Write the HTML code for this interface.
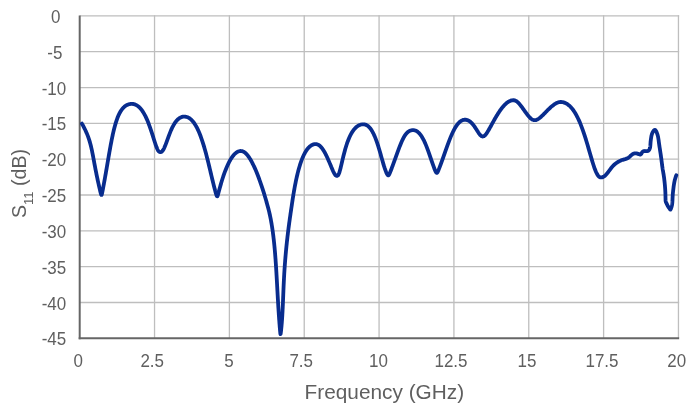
<!DOCTYPE html>
<html lang="en">
<head>
<meta charset="utf-8">
<title>S11 vs Frequency</title>
<style>
html,body{margin:0;padding:0;background:#fff;}
body{width:691px;height:411px;overflow:hidden;font-family:"Liberation Sans",sans-serif;}
svg{display:block;}
svg text{font-family:"Liberation Sans",sans-serif;fill:#5f5f5f;}
.grid line{stroke:#bebebe;stroke-width:1.3;}
.axis line{stroke:#666;stroke-width:2;}
.tick text{font-size:18px;text-anchor:middle;}
.title{font-size:19.7px;}
.curve{fill:none;stroke:#082c8e;stroke-width:3.8;stroke-linejoin:round;stroke-linecap:round;}
</style>
</head>
<body>
<svg width="691" height="411" viewBox="0 0 691 411">
<rect width="691" height="411" fill="#fff"/>
<g class="grid">
<line x1="154.54" y1="15.20" x2="154.54" y2="338.30"/>
<line x1="229.39" y1="15.20" x2="229.39" y2="338.30"/>
<line x1="304.23" y1="15.20" x2="304.23" y2="338.30"/>
<line x1="379.07" y1="15.20" x2="379.07" y2="338.30"/>
<line x1="453.92" y1="15.20" x2="453.92" y2="338.30"/>
<line x1="528.76" y1="15.20" x2="528.76" y2="338.30"/>
<line x1="603.61" y1="15.20" x2="603.61" y2="338.30"/>
<line x1="678.45" y1="15.20" x2="678.45" y2="338.30"/>
<line x1="79.70" y1="15.90" x2="679.15" y2="15.90"/>
<line x1="79.70" y1="51.72" x2="679.15" y2="51.72"/>
<line x1="79.70" y1="87.54" x2="679.15" y2="87.54"/>
<line x1="79.70" y1="123.37" x2="679.15" y2="123.37"/>
<line x1="79.70" y1="159.19" x2="679.15" y2="159.19"/>
<line x1="79.70" y1="195.01" x2="679.15" y2="195.01"/>
<line x1="79.70" y1="230.83" x2="679.15" y2="230.83"/>
<line x1="79.70" y1="266.66" x2="679.15" y2="266.66"/>
<line x1="79.70" y1="302.48" x2="679.15" y2="302.48"/>
</g>

<g class="axis">
<line x1="79.7" y1="15.6" x2="79.7" y2="339.3"/>
<line x1="78.7" y1="338.3" x2="679.1500000000001" y2="338.3"/>
</g>
<path class="curve" d="M81.90 123.60 L82.29 124.30 L82.68 125.00 L83.07 125.70 L83.45 126.40 L83.82 127.11 L84.19 127.82 L84.55 128.53 L84.91 129.25 L85.26 129.97 L85.60 130.69 L85.94 131.41 L86.26 132.14 L86.58 132.88 L86.90 133.61 L87.20 134.35 L87.50 135.10 L87.79 135.84 L88.07 136.59 L88.34 137.34 L88.60 138.10 L88.86 138.86 L89.11 139.62 L89.35 140.38 L89.58 141.14 L89.81 141.91 L90.03 142.68 L90.24 143.45 L90.45 144.22 L90.65 145.00 L90.84 145.77 L91.03 146.55 L91.22 147.33 L91.40 148.11 L91.57 148.89 L91.74 149.67 L91.91 150.45 L92.07 151.24 L92.23 152.02 L92.39 152.80 L92.55 153.59 L92.70 154.37 L92.85 155.16 L93.00 155.95 L93.15 156.73 L93.30 157.52 L93.45 158.30 L93.59 159.09 L93.74 159.88 L93.88 160.66 L94.03 161.45 L94.17 162.24 L94.32 163.02 L94.47 163.81 L94.61 164.60 L94.76 165.38 L94.91 166.17 L95.06 166.96 L95.21 167.74 L95.36 168.53 L95.51 169.31 L95.66 170.10 L95.81 170.88 L95.97 171.67 L96.12 172.45 L96.28 173.24 L96.44 174.02 L96.60 174.81 L96.76 175.59 L96.92 176.37 L97.08 177.16 L97.25 177.94 L97.41 178.72 L97.58 179.50 L97.75 180.29 L97.92 181.07 L98.09 181.85 L98.26 182.63 L98.44 183.41 L98.61 184.19 L98.79 184.97 L98.97 185.75 L99.15 186.53 L99.33 187.31 L99.51 188.09 L99.69 188.87 L99.88 189.65 L100.07 190.42 L100.25 191.20 L100.44 191.98 L100.63 192.74 L100.82 193.48 L101.01 194.15 L101.20 194.67 L101.38 194.96 L101.56 194.96 L101.73 194.66 L101.89 194.12 L102.05 193.44 L102.20 192.69 L102.35 191.92 L102.51 191.13 L102.66 190.35 L102.81 189.56 L102.96 188.78 L103.11 187.99 L103.26 187.21 L103.40 186.42 L103.55 185.63 L103.70 184.85 L103.84 184.06 L103.99 183.27 L104.13 182.49 L104.28 181.70 L104.42 180.91 L104.56 180.13 L104.70 179.34 L104.84 178.55 L104.98 177.76 L105.12 176.98 L105.26 176.19 L105.40 175.40 L105.54 174.61 L105.68 173.82 L105.82 173.04 L105.95 172.25 L106.09 171.46 L106.23 170.67 L106.36 169.88 L106.50 169.09 L106.64 168.31 L106.77 167.52 L106.91 166.73 L107.04 165.94 L107.18 165.15 L107.31 164.36 L107.45 163.58 L107.58 162.79 L107.72 162.00 L107.85 161.21 L107.99 160.42 L108.12 159.63 L108.26 158.84 L108.39 158.06 L108.53 157.27 L108.66 156.48 L108.80 155.69 L108.94 154.90 L109.07 154.11 L109.21 153.33 L109.35 152.54 L109.49 151.75 L109.63 150.96 L109.77 150.17 L109.91 149.39 L110.05 148.60 L110.19 147.81 L110.33 147.03 L110.48 146.24 L110.62 145.45 L110.77 144.66 L110.92 143.88 L111.06 143.09 L111.21 142.31 L111.37 141.52 L111.52 140.74 L111.67 139.95 L111.83 139.17 L111.99 138.38 L112.15 137.60 L112.31 136.82 L112.48 136.03 L112.64 135.25 L112.81 134.47 L112.99 133.69 L113.16 132.91 L113.34 132.13 L113.52 131.35 L113.71 130.57 L113.89 129.79 L114.09 129.02 L114.28 128.24 L114.48 127.47 L114.69 126.69 L114.89 125.92 L115.11 125.15 L115.33 124.38 L115.55 123.61 L115.78 122.85 L116.02 122.08 L116.27 121.32 L116.52 120.56 L116.78 119.81 L117.05 119.05 L117.32 118.30 L117.61 117.56 L117.91 116.81 L118.22 116.08 L118.54 115.34 L118.87 114.62 L119.22 113.90 L119.58 113.18 L119.96 112.48 L120.35 111.79 L120.77 111.10 L121.20 110.43 L121.65 109.78 L122.13 109.14 L122.64 108.52 L123.17 107.92 L123.72 107.36 L124.31 106.82 L124.92 106.31 L125.56 105.84 L126.23 105.42 L126.93 105.04 L127.65 104.72 L128.39 104.44 L129.15 104.22 L129.92 104.06 L130.71 103.95 L131.50 103.90 L132.29 103.92 L133.07 103.99 L133.85 104.14 L134.61 104.34 L135.35 104.61 L136.07 104.94 L136.76 105.32 L137.43 105.74 L138.07 106.21 L138.69 106.71 L139.28 107.25 L139.84 107.81 L140.39 108.40 L140.90 109.00 L141.40 109.63 L141.88 110.26 L142.35 110.92 L142.79 111.58 L143.22 112.25 L143.64 112.93 L144.04 113.62 L144.43 114.32 L144.81 115.03 L145.18 115.74 L145.54 116.45 L145.89 117.17 L146.23 117.89 L146.56 118.62 L146.89 119.35 L147.21 120.09 L147.52 120.82 L147.82 121.56 L148.12 122.30 L148.41 123.05 L148.70 123.79 L148.98 124.54 L149.26 125.29 L149.54 126.04 L149.81 126.80 L150.07 127.55 L150.34 128.31 L150.60 129.06 L150.85 129.82 L151.11 130.58 L151.36 131.34 L151.61 132.10 L151.85 132.86 L152.10 133.62 L152.34 134.38 L152.59 135.15 L152.83 135.91 L153.07 136.67 L153.31 137.43 L153.55 138.20 L153.79 138.96 L154.03 139.72 L154.27 140.49 L154.51 141.25 L154.76 142.01 L155.01 142.77 L155.26 143.53 L155.51 144.29 L155.77 145.05 L156.04 145.80 L156.31 146.55 L156.59 147.30 L156.89 148.04 L157.20 148.78 L157.54 149.50 L157.90 150.20 L158.32 150.85 L158.79 151.42 L159.32 151.87 L159.91 152.14 L160.54 152.19 L161.16 152.02 L161.75 151.66 L162.29 151.16 L162.77 150.56 L163.20 149.91 L163.59 149.22 L163.96 148.51 L164.30 147.79 L164.62 147.06 L164.93 146.32 L165.23 145.58 L165.52 144.83 L165.81 144.09 L166.09 143.34 L166.37 142.59 L166.64 141.84 L166.91 141.08 L167.18 140.33 L167.45 139.58 L167.72 138.82 L168.00 138.07 L168.27 137.32 L168.54 136.57 L168.82 135.82 L169.10 135.07 L169.39 134.32 L169.68 133.58 L169.97 132.83 L170.27 132.09 L170.57 131.35 L170.88 130.61 L171.20 129.88 L171.53 129.15 L171.86 128.42 L172.21 127.70 L172.56 126.98 L172.93 126.27 L173.30 125.57 L173.70 124.87 L174.10 124.18 L174.52 123.50 L174.96 122.84 L175.42 122.18 L175.90 121.54 L176.40 120.92 L176.92 120.32 L177.48 119.75 L178.05 119.21 L178.66 118.70 L179.30 118.23 L179.97 117.81 L180.67 117.44 L181.40 117.13 L182.14 116.89 L182.91 116.72 L183.69 116.62 L184.47 116.60 L185.26 116.65 L186.03 116.78 L186.80 116.98 L187.54 117.24 L188.26 117.57 L188.95 117.94 L189.62 118.37 L190.26 118.84 L190.87 119.35 L191.45 119.89 L192.01 120.46 L192.55 121.05 L193.06 121.66 L193.55 122.29 L194.03 122.93 L194.48 123.59 L194.92 124.25 L195.35 124.93 L195.76 125.62 L196.16 126.31 L196.54 127.01 L196.91 127.72 L197.28 128.43 L197.63 129.15 L197.97 129.87 L198.31 130.60 L198.63 131.33 L198.95 132.06 L199.26 132.80 L199.57 133.54 L199.87 134.28 L200.16 135.02 L200.45 135.77 L200.73 136.52 L201.00 137.27 L201.27 138.02 L201.54 138.78 L201.80 139.54 L202.06 140.29 L202.31 141.05 L202.56 141.81 L202.80 142.57 L203.04 143.34 L203.28 144.10 L203.52 144.86 L203.75 145.63 L203.98 146.40 L204.21 147.16 L204.43 147.93 L204.65 148.70 L204.87 149.47 L205.09 150.24 L205.30 151.01 L205.51 151.78 L205.72 152.55 L205.93 153.33 L206.14 154.10 L206.34 154.87 L206.54 155.65 L206.74 156.42 L206.94 157.20 L207.14 157.97 L207.34 158.75 L207.53 159.52 L207.73 160.30 L207.92 161.07 L208.11 161.85 L208.31 162.63 L208.50 163.40 L208.69 164.18 L208.87 164.96 L209.06 165.74 L209.25 166.51 L209.44 167.29 L209.62 168.07 L209.81 168.85 L209.99 169.63 L210.18 170.41 L210.36 171.18 L210.55 171.96 L210.73 172.74 L210.92 173.52 L211.10 174.30 L211.29 175.08 L211.47 175.85 L211.66 176.63 L211.84 177.41 L212.03 178.19 L212.21 178.97 L212.40 179.74 L212.59 180.52 L212.78 181.30 L212.97 182.08 L213.16 182.85 L213.35 183.63 L213.54 184.41 L213.73 185.18 L213.93 185.96 L214.13 186.73 L214.33 187.51 L214.53 188.28 L214.73 189.06 L214.94 189.83 L215.14 190.60 L215.36 191.37 L215.57 192.15 L215.79 192.91 L216.01 193.68 L216.23 194.43 L216.46 195.14 L216.69 195.76 L216.92 196.21 L217.15 196.40 L217.37 196.29 L217.58 195.90 L217.79 195.32 L218.00 194.62 L218.20 193.87 L218.40 193.10 L218.60 192.33 L218.81 191.56 L219.01 190.78 L219.22 190.01 L219.43 189.24 L219.63 188.46 L219.85 187.69 L220.06 186.92 L220.28 186.15 L220.50 185.38 L220.72 184.61 L220.94 183.85 L221.17 183.08 L221.40 182.31 L221.63 181.55 L221.86 180.78 L222.10 180.02 L222.34 179.25 L222.58 178.49 L222.83 177.73 L223.08 176.97 L223.34 176.21 L223.59 175.46 L223.86 174.70 L224.12 173.95 L224.39 173.19 L224.67 172.44 L224.95 171.69 L225.23 170.94 L225.52 170.20 L225.81 169.45 L226.11 168.71 L226.42 167.97 L226.73 167.24 L227.04 166.50 L227.37 165.77 L227.70 165.04 L228.04 164.32 L228.38 163.60 L228.74 162.88 L229.10 162.17 L229.47 161.46 L229.85 160.76 L230.25 160.06 L230.65 159.37 L231.07 158.69 L231.50 158.02 L231.95 157.35 L232.41 156.70 L232.89 156.06 L233.39 155.44 L233.91 154.83 L234.45 154.25 L235.02 153.69 L235.61 153.16 L236.23 152.67 L236.89 152.23 L237.57 151.83 L238.28 151.50 L239.02 151.25 L239.78 151.08 L240.55 151.00 L241.32 151.03 L242.08 151.16 L242.81 151.39 L243.52 151.71 L244.20 152.11 L244.84 152.57 L245.45 153.07 L246.03 153.61 L246.59 154.19 L247.12 154.78 L247.62 155.40 L248.11 156.03 L248.58 156.67 L249.04 157.33 L249.48 158.00 L249.91 158.67 L250.33 159.35 L250.74 160.04 L251.14 160.73 L251.52 161.43 L251.90 162.14 L252.28 162.84 L252.64 163.56 L253.00 164.27 L253.35 164.99 L253.70 165.71 L254.04 166.43 L254.38 167.16 L254.71 167.89 L255.03 168.62 L255.35 169.35 L255.67 170.09 L255.98 170.82 L256.29 171.56 L256.60 172.30 L256.90 173.04 L257.19 173.78 L257.49 174.53 L257.78 175.27 L258.07 176.02 L258.35 176.77 L258.63 177.52 L258.91 178.27 L259.19 179.02 L259.46 179.77 L259.73 180.52 L260.00 181.27 L260.27 182.03 L260.53 182.78 L260.79 183.54 L261.05 184.30 L261.31 185.05 L261.57 185.81 L261.82 186.57 L262.07 187.33 L262.32 188.09 L262.57 188.85 L262.81 189.61 L263.05 190.37 L263.30 191.14 L263.54 191.90 L263.77 192.66 L264.01 193.43 L264.25 194.19 L264.48 194.96 L264.71 195.72 L264.94 196.49 L265.17 197.26 L265.39 198.02 L265.62 198.79 L265.84 199.56 L266.06 200.33 L266.28 201.10 L266.50 201.87 L266.72 202.64 L266.94 203.41 L267.15 204.18 L267.36 204.95 L267.57 205.72 L267.78 206.49 L267.99 207.27 L268.20 208.04 L268.40 208.81 L268.60 209.59 L268.80 210.36 L268.99 211.13 L269.18 211.91 L269.37 212.68 L269.55 213.46 L269.72 214.24 L269.89 215.02 L270.06 215.80 L270.22 216.58 L270.38 217.37 L270.53 218.15 L270.69 218.94 L270.84 219.72 L270.98 220.51 L271.13 221.29 L271.27 222.08 L271.41 222.87 L271.54 223.66 L271.67 224.45 L271.80 225.24 L271.93 226.03 L272.05 226.82 L272.17 227.61 L272.29 228.40 L272.41 229.19 L272.53 229.98 L272.64 230.77 L272.75 231.57 L272.86 232.36 L272.96 233.15 L273.07 233.95 L273.17 234.74 L273.27 235.53 L273.36 236.33 L273.46 237.12 L273.55 237.92 L273.65 238.71 L273.74 239.50 L273.83 240.30 L273.91 241.10 L274.00 241.89 L274.08 242.69 L274.16 243.48 L274.24 244.28 L274.32 245.07 L274.40 245.87 L274.48 246.67 L274.55 247.46 L274.63 248.26 L274.70 249.06 L274.77 249.85 L274.84 250.65 L274.91 251.45 L274.98 252.24 L275.04 253.04 L275.11 253.84 L275.17 254.64 L275.23 255.43 L275.30 256.23 L275.36 257.03 L275.42 257.83 L275.48 258.62 L275.54 259.42 L275.59 260.22 L275.65 261.02 L275.71 261.82 L275.76 262.61 L275.82 263.41 L275.87 264.21 L275.92 265.01 L275.97 265.81 L276.03 266.61 L276.08 267.40 L276.13 268.20 L276.18 269.00 L276.23 269.80 L276.28 270.60 L276.32 271.40 L276.37 272.19 L276.42 272.99 L276.47 273.79 L276.51 274.59 L276.56 275.39 L276.61 276.19 L276.65 276.99 L276.70 277.79 L276.74 278.58 L276.79 279.38 L276.83 280.18 L276.88 280.98 L276.92 281.78 L276.97 282.58 L277.01 283.38 L277.05 284.18 L277.10 284.97 L277.14 285.77 L277.18 286.57 L277.23 287.37 L277.27 288.17 L277.31 288.97 L277.36 289.77 L277.40 290.57 L277.45 291.36 L277.49 292.16 L277.53 292.96 L277.58 293.76 L277.62 294.56 L277.67 295.36 L277.71 296.16 L277.75 296.96 L277.80 297.76 L277.84 298.55 L277.89 299.35 L277.94 300.15 L277.98 300.95 L278.03 301.75 L278.07 302.55 L278.12 303.35 L278.17 304.14 L278.22 304.94 L278.26 305.74 L278.31 306.54 L278.36 307.34 L278.41 308.14 L278.46 308.94 L278.51 309.73 L278.56 310.53 L278.61 311.33 L278.67 312.13 L278.72 312.93 L278.77 313.73 L278.82 314.52 L278.88 315.32 L278.93 316.12 L278.99 316.92 L279.05 317.72 L279.10 318.51 L279.16 319.31 L279.22 320.11 L279.28 320.91 L279.34 321.71 L279.40 322.50 L279.46 323.30 L279.52 324.10 L279.59 324.90 L279.65 325.69 L279.71 326.49 L279.78 327.29 L279.85 328.09 L279.91 328.88 L279.98 329.68 L280.05 330.48 L280.12 331.27 L280.20 332.05 L280.27 332.79 L280.34 333.43 L280.42 333.90 L280.51 334.10 L280.59 333.99 L280.68 333.59 L280.77 332.99 L280.87 332.28 L280.95 331.51 L281.04 330.72 L281.13 329.92 L281.21 329.13 L281.29 328.33 L281.37 327.54 L281.44 326.74 L281.52 325.94 L281.59 325.15 L281.66 324.35 L281.73 323.55 L281.79 322.75 L281.85 321.96 L281.92 321.16 L281.98 320.36 L282.03 319.56 L282.09 318.76 L282.14 317.97 L282.20 317.17 L282.25 316.37 L282.30 315.57 L282.34 314.77 L282.39 313.97 L282.43 313.18 L282.48 312.38 L282.52 311.58 L282.56 310.78 L282.60 309.98 L282.64 309.18 L282.68 308.38 L282.72 307.58 L282.75 306.78 L282.79 305.98 L282.83 305.19 L282.86 304.39 L282.89 303.59 L282.93 302.79 L282.96 301.99 L282.99 301.19 L283.03 300.39 L283.06 299.59 L283.09 298.79 L283.12 297.99 L283.15 297.19 L283.19 296.39 L283.22 295.59 L283.25 294.79 L283.28 293.99 L283.31 293.20 L283.35 292.40 L283.38 291.60 L283.41 290.80 L283.45 290.00 L283.48 289.20 L283.51 288.40 L283.55 287.60 L283.58 286.80 L283.62 286.00 L283.65 285.20 L283.69 284.40 L283.73 283.60 L283.77 282.81 L283.81 282.01 L283.84 281.21 L283.88 280.41 L283.93 279.61 L283.97 278.81 L284.01 278.01 L284.05 277.21 L284.10 276.41 L284.14 275.62 L284.19 274.82 L284.23 274.02 L284.28 273.22 L284.33 272.42 L284.38 271.62 L284.43 270.82 L284.48 270.03 L284.53 269.23 L284.59 268.43 L284.64 267.63 L284.70 266.83 L284.75 266.03 L284.81 265.24 L284.87 264.44 L284.93 263.64 L284.99 262.84 L285.05 262.05 L285.11 261.25 L285.17 260.45 L285.23 259.65 L285.30 258.86 L285.37 258.06 L285.43 257.26 L285.50 256.46 L285.57 255.67 L285.64 254.87 L285.71 254.07 L285.78 253.28 L285.85 252.48 L285.93 251.68 L286.00 250.89 L286.08 250.09 L286.16 249.29 L286.23 248.50 L286.31 247.70 L286.39 246.91 L286.47 246.11 L286.55 245.31 L286.64 244.52 L286.72 243.72 L286.80 242.93 L286.89 242.13 L286.98 241.34 L287.06 240.54 L287.15 239.75 L287.24 238.95 L287.33 238.16 L287.42 237.36 L287.51 236.57 L287.61 235.77 L287.70 234.98 L287.80 234.18 L287.89 233.39 L287.99 232.59 L288.09 231.80 L288.18 231.01 L288.28 230.21 L288.38 229.42 L288.48 228.63 L288.59 227.83 L288.69 227.04 L288.79 226.25 L288.90 225.45 L289.00 224.66 L289.11 223.87 L289.21 223.07 L289.32 222.28 L289.43 221.49 L289.54 220.70 L289.65 219.90 L289.76 219.11 L289.87 218.32 L289.98 217.53 L290.10 216.73 L290.21 215.94 L290.32 215.15 L290.44 214.36 L290.55 213.57 L290.67 212.78 L290.79 211.98 L290.90 211.19 L291.02 210.40 L291.14 209.61 L291.25 208.82 L291.37 208.03 L291.48 207.24 L291.60 206.44 L291.71 205.65 L291.83 204.86 L291.95 204.07 L292.06 203.28 L292.18 202.49 L292.30 201.70 L292.42 200.90 L292.54 200.11 L292.66 199.32 L292.78 198.53 L292.91 197.74 L293.03 196.95 L293.16 196.16 L293.29 195.37 L293.41 194.58 L293.54 193.79 L293.68 193.00 L293.81 192.21 L293.94 191.43 L294.08 190.64 L294.22 189.85 L294.36 189.06 L294.50 188.27 L294.64 187.49 L294.79 186.70 L294.93 185.91 L295.08 185.13 L295.24 184.34 L295.39 183.56 L295.55 182.77 L295.70 181.99 L295.87 181.21 L296.03 180.42 L296.19 179.64 L296.36 178.86 L296.53 178.08 L296.71 177.30 L296.89 176.52 L297.07 175.74 L297.25 174.96 L297.44 174.18 L297.63 173.40 L297.82 172.63 L298.02 171.85 L298.22 171.08 L298.43 170.30 L298.64 169.53 L298.85 168.76 L299.07 167.99 L299.29 167.22 L299.52 166.46 L299.75 165.69 L299.99 164.93 L300.23 164.17 L300.48 163.41 L300.74 162.65 L301.00 161.89 L301.27 161.14 L301.54 160.39 L301.83 159.64 L302.12 158.89 L302.42 158.15 L302.72 157.42 L303.04 156.68 L303.37 155.95 L303.71 155.23 L304.06 154.51 L304.42 153.80 L304.80 153.09 L305.18 152.39 L305.59 151.70 L306.01 151.02 L306.45 150.36 L306.91 149.70 L307.38 149.06 L307.88 148.44 L308.41 147.84 L308.96 147.27 L309.54 146.72 L310.14 146.21 L310.78 145.73 L311.44 145.30 L312.14 144.93 L312.86 144.62 L313.61 144.37 L314.37 144.20 L315.14 144.11 L315.92 144.11 L316.68 144.22 L317.42 144.42 L318.14 144.72 L318.82 145.11 L319.46 145.56 L320.07 146.06 L320.64 146.61 L321.18 147.20 L321.69 147.81 L322.18 148.44 L322.65 149.08 L323.10 149.74 L323.53 150.42 L323.95 151.10 L324.35 151.79 L324.74 152.48 L325.13 153.19 L325.50 153.90 L325.86 154.61 L326.22 155.32 L326.57 156.04 L326.91 156.77 L327.25 157.49 L327.58 158.22 L327.91 158.95 L328.23 159.68 L328.55 160.41 L328.87 161.15 L329.18 161.88 L329.49 162.62 L329.80 163.36 L330.11 164.10 L330.42 164.83 L330.73 165.57 L331.04 166.31 L331.34 167.05 L331.66 167.79 L331.97 168.52 L332.29 169.26 L332.61 169.99 L332.93 170.72 L333.27 171.44 L333.62 172.17 L333.98 172.88 L334.36 173.58 L334.77 174.25 L335.21 174.87 L335.71 175.39 L336.24 175.75 L336.80 175.90 L337.35 175.80 L337.84 175.46 L338.28 174.94 L338.64 174.29 L338.95 173.58 L339.23 172.84 L339.47 172.08 L339.70 171.32 L339.92 170.55 L340.13 169.77 L340.33 169.00 L340.53 168.22 L340.72 167.45 L340.91 166.67 L341.09 165.89 L341.28 165.11 L341.46 164.34 L341.64 163.56 L341.82 162.78 L342.01 162.00 L342.19 161.22 L342.37 160.44 L342.55 159.66 L342.74 158.88 L342.93 158.11 L343.11 157.33 L343.30 156.55 L343.50 155.77 L343.69 155.00 L343.89 154.22 L344.09 153.45 L344.29 152.67 L344.49 151.90 L344.70 151.13 L344.92 150.36 L345.13 149.59 L345.35 148.82 L345.58 148.05 L345.81 147.28 L346.04 146.52 L346.28 145.76 L346.52 144.99 L346.77 144.23 L347.03 143.48 L347.29 142.72 L347.56 141.97 L347.84 141.22 L348.12 140.47 L348.41 139.72 L348.71 138.98 L349.02 138.25 L349.34 137.51 L349.67 136.78 L350.01 136.06 L350.36 135.34 L350.72 134.63 L351.10 133.92 L351.49 133.23 L351.89 132.54 L352.32 131.86 L352.75 131.19 L353.21 130.54 L353.69 129.90 L354.19 129.27 L354.71 128.67 L355.25 128.09 L355.82 127.53 L356.42 127.00 L357.04 126.51 L357.69 126.05 L358.36 125.64 L359.07 125.27 L359.79 124.96 L360.54 124.70 L361.30 124.50 L362.08 124.37 L362.86 124.30 L363.65 124.32 L364.42 124.41 L365.18 124.58 L365.92 124.84 L366.63 125.17 L367.31 125.57 L367.95 126.03 L368.55 126.54 L369.13 127.09 L369.67 127.67 L370.18 128.28 L370.67 128.91 L371.13 129.56 L371.57 130.23 L371.99 130.91 L372.39 131.60 L372.78 132.30 L373.15 133.01 L373.50 133.72 L373.85 134.44 L374.18 135.17 L374.51 135.90 L374.82 136.64 L375.13 137.37 L375.42 138.12 L375.71 138.86 L376.00 139.61 L376.27 140.36 L376.54 141.11 L376.81 141.87 L377.07 142.63 L377.33 143.38 L377.58 144.14 L377.82 144.90 L378.07 145.67 L378.31 146.43 L378.54 147.19 L378.78 147.96 L379.01 148.72 L379.24 149.49 L379.46 150.26 L379.69 151.03 L379.91 151.79 L380.13 152.56 L380.35 153.33 L380.57 154.10 L380.79 154.87 L381.00 155.64 L381.22 156.41 L381.44 157.18 L381.65 157.95 L381.87 158.72 L382.09 159.49 L382.31 160.26 L382.53 161.03 L382.75 161.80 L382.97 162.57 L383.20 163.34 L383.42 164.10 L383.65 164.87 L383.89 165.63 L384.12 166.40 L384.37 167.16 L384.61 167.92 L384.87 168.68 L385.13 169.44 L385.40 170.19 L385.68 170.94 L385.97 171.68 L386.27 172.42 L386.59 173.15 L386.93 173.85 L387.28 174.49 L387.65 175.01 L388.02 175.33 L388.38 175.39 L388.72 175.17 L389.05 174.71 L389.36 174.10 L389.67 173.40 L389.97 172.67 L390.26 171.93 L390.56 171.19 L390.85 170.45 L391.14 169.70 L391.43 168.95 L391.72 168.21 L392.00 167.46 L392.28 166.71 L392.57 165.96 L392.85 165.21 L393.13 164.46 L393.41 163.71 L393.68 162.96 L393.96 162.21 L394.23 161.46 L394.51 160.71 L394.78 159.96 L395.05 159.21 L395.33 158.45 L395.60 157.70 L395.87 156.95 L396.14 156.20 L396.41 155.44 L396.68 154.69 L396.95 153.94 L397.22 153.18 L397.49 152.43 L397.77 151.68 L398.04 150.93 L398.32 150.18 L398.59 149.43 L398.87 148.68 L399.15 147.93 L399.44 147.18 L399.72 146.43 L400.01 145.69 L400.31 144.94 L400.61 144.20 L400.91 143.46 L401.22 142.72 L401.53 141.99 L401.86 141.26 L402.19 140.53 L402.53 139.80 L402.88 139.09 L403.24 138.37 L403.61 137.67 L404.00 136.97 L404.41 136.28 L404.83 135.60 L405.28 134.94 L405.75 134.30 L406.25 133.68 L406.77 133.08 L407.33 132.52 L407.93 132.00 L408.56 131.52 L409.22 131.10 L409.92 130.75 L410.65 130.47 L411.41 130.26 L412.18 130.14 L412.96 130.10 L413.74 130.15 L414.51 130.28 L415.26 130.50 L415.98 130.80 L416.68 131.16 L417.34 131.59 L417.97 132.07 L418.56 132.59 L419.13 133.15 L419.67 133.74 L420.18 134.35 L420.66 134.98 L421.12 135.63 L421.57 136.30 L421.99 136.97 L422.40 137.66 L422.80 138.35 L423.18 139.06 L423.55 139.77 L423.91 140.48 L424.26 141.20 L424.59 141.93 L424.92 142.65 L425.25 143.39 L425.56 144.12 L425.87 144.86 L426.17 145.60 L426.47 146.34 L426.76 147.09 L427.05 147.83 L427.33 148.58 L427.61 149.33 L427.88 150.08 L428.16 150.84 L428.43 151.59 L428.69 152.34 L428.96 153.10 L429.22 153.85 L429.48 154.61 L429.74 155.37 L430.00 156.12 L430.26 156.88 L430.51 157.64 L430.77 158.40 L431.03 159.15 L431.28 159.91 L431.54 160.67 L431.80 161.43 L432.06 162.18 L432.32 162.94 L432.59 163.69 L432.85 164.45 L433.12 165.20 L433.40 165.95 L433.67 166.70 L433.95 167.45 L434.24 168.20 L434.53 168.94 L434.83 169.69 L435.14 170.42 L435.45 171.14 L435.78 171.81 L436.11 172.38 L436.45 172.77 L436.78 172.90 L437.12 172.75 L437.45 172.35 L437.77 171.77 L438.08 171.10 L438.39 170.38 L438.70 169.64 L439.00 168.90 L439.29 168.16 L439.59 167.41 L439.87 166.67 L440.16 165.92 L440.44 165.17 L440.72 164.42 L441.00 163.67 L441.27 162.92 L441.54 162.17 L441.81 161.41 L442.08 160.66 L442.35 159.91 L442.62 159.15 L442.88 158.40 L443.14 157.64 L443.41 156.89 L443.67 156.13 L443.93 155.38 L444.20 154.62 L444.46 153.87 L444.72 153.11 L444.98 152.35 L445.25 151.60 L445.51 150.84 L445.77 150.09 L446.04 149.33 L446.31 148.58 L446.57 147.82 L446.84 147.07 L447.11 146.32 L447.38 145.57 L447.66 144.81 L447.93 144.06 L448.21 143.31 L448.49 142.56 L448.77 141.81 L449.06 141.07 L449.35 140.32 L449.64 139.58 L449.93 138.83 L450.23 138.09 L450.53 137.35 L450.84 136.61 L451.15 135.88 L451.47 135.14 L451.79 134.41 L452.12 133.68 L452.46 132.95 L452.80 132.23 L453.15 131.51 L453.51 130.80 L453.87 130.09 L454.25 129.38 L454.64 128.68 L455.03 127.99 L455.44 127.30 L455.87 126.62 L456.31 125.95 L456.76 125.30 L457.24 124.65 L457.73 124.03 L458.24 123.42 L458.78 122.83 L459.35 122.28 L459.95 121.75 L460.57 121.27 L461.23 120.83 L461.92 120.45 L462.64 120.14 L463.39 119.91 L464.15 119.76 L464.93 119.70 L465.70 119.73 L466.47 119.85 L467.23 120.06 L467.96 120.34 L468.67 120.69 L469.34 121.10 L469.99 121.55 L470.60 122.05 L471.19 122.59 L471.76 123.15 L472.30 123.74 L472.82 124.34 L473.32 124.96 L473.81 125.60 L474.28 126.24 L474.74 126.90 L475.19 127.56 L475.63 128.22 L476.06 128.90 L476.49 129.57 L476.92 130.25 L477.35 130.93 L477.77 131.60 L478.20 132.28 L478.64 132.94 L479.09 133.60 L479.56 134.25 L480.06 134.86 L480.59 135.43 L481.16 135.92 L481.78 136.28 L482.43 136.48 L483.10 136.47 L483.75 136.27 L484.37 135.90 L484.94 135.41 L485.47 134.84 L485.96 134.23 L486.43 133.58 L486.87 132.92 L487.31 132.25 L487.73 131.57 L488.14 130.88 L488.54 130.19 L488.94 129.50 L489.34 128.80 L489.73 128.10 L490.12 127.41 L490.51 126.71 L490.89 126.01 L491.28 125.30 L491.66 124.60 L492.05 123.90 L492.43 123.20 L492.82 122.50 L493.21 121.80 L493.60 121.10 L493.99 120.40 L494.38 119.71 L494.78 119.01 L495.18 118.32 L495.58 117.63 L495.98 116.94 L496.39 116.25 L496.80 115.56 L497.22 114.88 L497.64 114.20 L498.07 113.52 L498.50 112.85 L498.94 112.18 L499.39 111.52 L499.84 110.86 L500.30 110.20 L500.76 109.56 L501.24 108.91 L501.73 108.28 L502.22 107.65 L502.73 107.03 L503.24 106.42 L503.77 105.82 L504.32 105.24 L504.88 104.67 L505.45 104.11 L506.04 103.57 L506.65 103.06 L507.28 102.57 L507.93 102.11 L508.60 101.68 L509.29 101.29 L510.01 100.95 L510.74 100.66 L511.49 100.43 L512.26 100.27 L513.03 100.20 L513.80 100.23 L514.56 100.36 L515.29 100.60 L515.98 100.94 L516.64 101.36 L517.27 101.84 L517.86 102.36 L518.43 102.92 L518.98 103.50 L519.51 104.10 L520.02 104.71 L520.52 105.33 L521.01 105.96 L521.50 106.60 L521.97 107.24 L522.45 107.89 L522.91 108.54 L523.38 109.19 L523.84 109.84 L524.30 110.50 L524.77 111.15 L525.23 111.80 L525.70 112.45 L526.17 113.09 L526.65 113.74 L527.13 114.37 L527.62 115.01 L528.12 115.63 L528.63 116.24 L529.16 116.84 L529.70 117.43 L530.27 117.99 L530.86 118.52 L531.48 119.01 L532.13 119.44 L532.82 119.79 L533.54 120.04 L534.28 120.18 L535.04 120.19 L535.79 120.07 L536.53 119.85 L537.24 119.54 L537.93 119.16 L538.60 118.73 L539.25 118.27 L539.88 117.78 L540.49 117.27 L541.09 116.74 L541.68 116.20 L542.26 115.65 L542.83 115.09 L543.40 114.53 L543.97 113.97 L544.53 113.40 L545.09 112.83 L545.65 112.26 L546.21 111.68 L546.77 111.11 L547.33 110.54 L547.90 109.98 L548.47 109.41 L549.04 108.85 L549.62 108.30 L550.20 107.75 L550.79 107.21 L551.39 106.68 L551.99 106.16 L552.61 105.65 L553.24 105.16 L553.88 104.68 L554.53 104.23 L555.21 103.80 L555.89 103.40 L556.60 103.03 L557.32 102.71 L558.07 102.44 L558.83 102.23 L559.60 102.09 L560.39 102.01 L561.17 102.01 L561.96 102.07 L562.74 102.19 L563.51 102.36 L564.27 102.60 L565.01 102.88 L565.73 103.20 L566.44 103.58 L567.12 103.99 L567.78 104.43 L568.42 104.91 L569.03 105.41 L569.63 105.94 L570.20 106.50 L570.76 107.07 L571.29 107.66 L571.81 108.27 L572.32 108.89 L572.80 109.52 L573.28 110.17 L573.74 110.82 L574.18 111.48 L574.61 112.16 L575.04 112.83 L575.45 113.52 L575.85 114.21 L576.24 114.91 L576.62 115.61 L576.99 116.32 L577.36 117.03 L577.71 117.75 L578.06 118.47 L578.40 119.19 L578.74 119.92 L579.07 120.65 L579.39 121.38 L579.71 122.11 L580.02 122.85 L580.32 123.59 L580.63 124.33 L580.92 125.07 L581.21 125.82 L581.50 126.57 L581.78 127.31 L582.06 128.06 L582.34 128.81 L582.61 129.57 L582.88 130.32 L583.14 131.07 L583.40 131.83 L583.66 132.59 L583.92 133.35 L584.17 134.10 L584.42 134.86 L584.67 135.62 L584.92 136.39 L585.16 137.15 L585.40 137.91 L585.64 138.67 L585.88 139.44 L586.11 140.20 L586.35 140.97 L586.58 141.73 L586.81 142.50 L587.04 143.27 L587.27 144.03 L587.50 144.80 L587.72 145.57 L587.95 146.33 L588.17 147.10 L588.39 147.87 L588.62 148.64 L588.84 149.41 L589.06 150.18 L589.28 150.95 L589.50 151.71 L589.73 152.48 L589.95 153.25 L590.17 154.02 L590.39 154.79 L590.61 155.56 L590.84 156.33 L591.06 157.09 L591.28 157.86 L591.51 158.63 L591.74 159.40 L591.97 160.16 L592.20 160.93 L592.43 161.69 L592.67 162.46 L592.91 163.22 L593.15 163.98 L593.39 164.75 L593.64 165.51 L593.89 166.26 L594.15 167.02 L594.41 167.78 L594.68 168.53 L594.96 169.28 L595.25 170.03 L595.54 170.77 L595.85 171.51 L596.17 172.24 L596.51 172.96 L596.87 173.68 L597.25 174.38 L597.67 175.05 L598.12 175.69 L598.63 176.28 L599.19 176.78 L599.81 177.16 L600.49 177.40 L601.20 177.47 L601.93 177.39 L602.65 177.17 L603.35 176.85 L604.02 176.45 L604.66 175.99 L605.25 175.47 L605.81 174.91 L606.35 174.32 L606.86 173.71 L607.36 173.09 L607.86 172.46 L608.35 171.83 L608.84 171.20 L609.32 170.56 L609.79 169.92 L610.27 169.27 L610.75 168.63 L611.23 168.00 L611.73 167.37 L612.24 166.75 L612.77 166.16 L613.31 165.58 L613.88 165.02 L614.48 164.48 L615.09 163.97 L615.72 163.48 L616.36 163.01 L617.02 162.56 L617.70 162.13 L618.38 161.72 L619.08 161.34 L619.79 160.97 L620.51 160.64 L621.25 160.33 L622.00 160.06 L622.76 159.81 L623.52 159.59 L624.29 159.37 L625.06 159.15 L625.82 158.91 L626.57 158.65 L627.30 158.34 L627.99 157.97 L628.65 157.55 L629.28 157.07 L629.87 156.54 L630.44 155.99 L631.01 155.44 L631.60 154.91 L632.21 154.43 L632.87 154.01 L633.57 153.67 L634.30 153.44 L635.05 153.31 L635.80 153.30 L636.55 153.41 L637.29 153.62 L638.01 153.87 L638.72 154.11 L639.40 154.24 L640.17 154.68 L640.82 154.38 L641.29 153.77 L641.66 153.07 L642.04 152.37 L642.54 151.78 L643.20 151.37 L643.95 151.13 L644.74 151.02 L645.53 151.03 L646.33 151.10 L647.12 151.12 L647.88 150.99 L648.55 150.60 L649.07 150.02 L649.46 149.33 L649.77 148.60 L650.00 147.83 L650.16 147.05 L650.26 146.26 L650.34 145.46 L650.40 144.67 L650.46 143.87 L650.51 143.07 L650.56 142.27 L650.63 141.47 L650.72 140.68 L650.82 139.89 L650.94 139.09 L651.05 138.30 L651.17 137.51 L651.30 136.72 L651.44 135.93 L651.61 135.15 L651.82 134.38 L652.08 133.63 L652.40 132.90 L652.76 132.18 L653.15 131.49 L653.59 130.82 L654.11 130.24 L654.73 129.92 L655.36 130.11 L655.86 130.67 L656.25 131.36 L656.57 132.09 L656.87 132.83 L657.15 133.59 L657.40 134.34 L657.64 135.11 L657.84 135.88 L658.01 136.66 L658.17 137.45 L658.30 138.23 L658.43 139.02 L658.55 139.82 L658.66 140.61 L658.77 141.40 L658.87 142.19 L658.97 142.99 L659.08 143.78 L659.19 144.57 L659.31 145.36 L659.43 146.15 L659.55 146.95 L659.67 147.74 L659.80 148.53 L659.92 149.32 L660.04 150.11 L660.16 150.90 L660.28 151.69 L660.40 152.48 L660.52 153.27 L660.64 154.06 L660.75 154.85 L660.87 155.65 L660.98 156.44 L661.09 157.23 L661.20 158.02 L661.31 158.82 L661.42 159.61 L661.52 160.40 L661.62 161.20 L661.72 161.99 L661.82 162.78 L661.92 163.58 L662.01 164.37 L662.12 165.16 L662.22 165.96 L662.33 166.75 L662.44 167.54 L662.55 168.33 L662.68 169.12 L662.80 169.91 L662.94 170.70 L663.08 171.49 L663.21 172.28 L663.35 173.07 L663.49 173.86 L663.62 174.64 L663.74 175.43 L663.86 176.23 L663.97 177.02 L664.08 177.81 L664.18 178.60 L664.27 179.40 L664.37 180.19 L664.46 180.99 L664.54 181.78 L664.63 182.58 L664.71 183.38 L664.78 184.17 L664.86 184.97 L664.93 185.77 L665.00 186.56 L665.06 187.36 L665.12 188.16 L665.17 188.96 L665.23 189.75 L665.27 190.55 L665.31 191.35 L665.35 192.15 L665.38 192.95 L665.40 193.75 L665.43 194.55 L665.45 195.35 L665.47 196.15 L665.49 196.95 L665.50 197.75 L665.52 198.55 L665.54 199.35 L665.56 200.15 L665.61 200.94 L665.77 201.71 L666.07 202.44 L666.42 203.16 L666.77 203.87 L667.13 204.59 L667.49 205.30 L667.87 206.01 L668.27 206.70 L668.69 207.38 L669.14 208.04 L669.59 208.70 L670.05 209.31 L670.45 209.58 L670.75 209.18 L671.02 208.47 L671.28 207.71 L671.53 206.95 L671.75 206.18 L671.93 205.41 L672.07 204.62 L672.18 203.83 L672.27 203.03 L672.34 202.24 L672.40 201.44 L672.44 200.64 L672.49 199.84 L672.52 199.04 L672.56 198.24 L672.60 197.44 L672.64 196.64 L672.68 195.85 L672.73 195.05 L672.79 194.25 L672.86 193.45 L672.94 192.66 L673.02 191.86 L673.11 191.07 L673.20 190.27 L673.29 189.48 L673.38 188.68 L673.48 187.89 L673.58 187.09 L673.68 186.30 L673.79 185.51 L673.91 184.72 L674.03 183.92 L674.16 183.14 L674.30 182.35 L674.45 181.56 L674.61 180.78 L674.80 180.00 L675.01 179.23 L675.24 178.47 L675.49 177.71 L675.75 176.95 L676.01 176.20 L676.24 175.47 L676.30 175.30"/>
<g class="tick">
<text transform="translate(55.8,22.9) scale(0.944,1)">0</text>
<text transform="translate(54.8,58.7) scale(0.944,1)">-5</text>
<text transform="translate(53.9,94.5) scale(0.944,1)">-10</text>
<text transform="translate(53.9,130.4) scale(0.944,1)">-15</text>
<text transform="translate(53.9,166.2) scale(0.944,1)">-20</text>
<text transform="translate(53.9,202.0) scale(0.944,1)">-25</text>
<text transform="translate(53.9,237.8) scale(0.944,1)">-30</text>
<text transform="translate(53.9,273.7) scale(0.944,1)">-35</text>
<text transform="translate(53.9,309.5) scale(0.944,1)">-40</text>
<text transform="translate(53.9,345.3) scale(0.944,1)">-45</text>
<text transform="translate(78.2,366.8) scale(0.944,1)">0</text>
<text transform="translate(152.2,366.8) scale(0.944,1)">2.5</text>
<text transform="translate(228.9,366.8) scale(0.944,1)">5</text>
<text transform="translate(301.2,366.8) scale(0.944,1)">7.5</text>
<text transform="translate(378.5,366.8) scale(0.944,1)">10</text>
<text transform="translate(451.0,366.8) scale(0.944,1)">12.5</text>
<text transform="translate(527.0,366.8) scale(0.944,1)">15</text>
<text transform="translate(602.0,366.8) scale(0.944,1)">17.5</text>
<text transform="translate(676.8,366.8) scale(0.944,1)">20</text>
</g>
<text class="title" x="304.6" y="399.4" textLength="159.5" lengthAdjust="spacingAndGlyphs">Frequency (GHz)</text>
<text class="title" transform="translate(26.1,218) rotate(-90)" textLength="69" lengthAdjust="spacingAndGlyphs">S<tspan font-size="13px" dy="7">11</tspan><tspan dy="-7"> (dB)</tspan></text>
</svg>
</body>
</html>
